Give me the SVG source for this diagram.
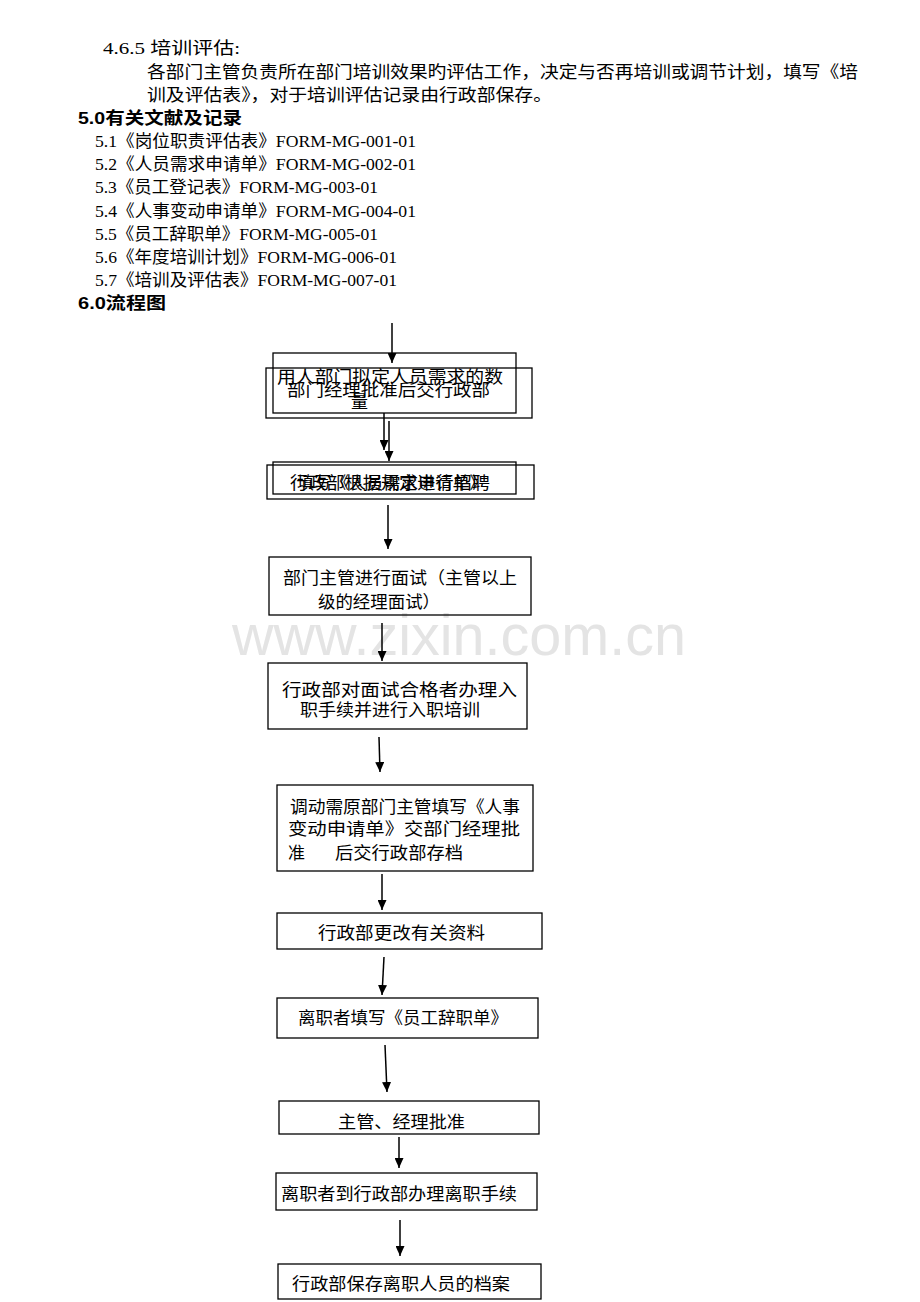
<svg xmlns="http://www.w3.org/2000/svg" width="920" height="1302" viewBox="0 0 920 1302">
<style>
.t{font-family:"Liberation Serif","Noto Sans CJK SC",serif;font-size:17px;fill:#000}
.h{font-family:"Liberation Sans","Noto Sans CJK SC",sans-serif;font-size:17px;font-weight:bold;fill:#000}
.b{font-family:"Noto Sans CJK SC",sans-serif;font-size:17px;fill:#000}
.box{fill:none;stroke:#000;stroke-width:1.3}
.ar{stroke:#000;stroke-width:1.5;fill:none;marker-end:url(#ah)}
.wm{font-family:"Liberation Sans",Arial,sans-serif;font-size:57px;fill:#e4e4e4}
</style>
<defs>
<marker id="ah" markerUnits="userSpaceOnUse" markerWidth="10" markerHeight="9" refX="10" refY="4.5" orient="auto">
<path d="M0,0 L10,4.5 L0,9 z" fill="#000"/>
</marker>
</defs>
<rect width="920" height="1302" fill="#fff"/>
<text class="wm" x="232" y="655" textLength="454" lengthAdjust="spacingAndGlyphs">www.zixin.com.cn</text>
<g id="header">
<text class="t" x="103" y="54" textLength="137" lengthAdjust="spacingAndGlyphs">4.6.5 培训评估:</text>
<text class="t" x="147" y="78" textLength="711" lengthAdjust="spacingAndGlyphs">各部门主管负责所在部门培训效果旳评估工作，决定与否再培训或调节计划，填写《培</text>
<text class="t" x="147" y="101" textLength="405" lengthAdjust="spacingAndGlyphs">训及评估表》，对于培训评估记录由行政部保存。</text>
<text class="h" x="78" y="124" textLength="164" lengthAdjust="spacingAndGlyphs">5.0有关文献及记录</text>
<text class="t" x="95" y="147" textLength="321" lengthAdjust="spacingAndGlyphs">5.1《岗位职责评估表》FORM-MG-001-01</text>
<text class="t" x="95" y="170" textLength="321" lengthAdjust="spacingAndGlyphs">5.2《人员需求申请单》FORM-MG-002-01</text>
<text class="t" x="95" y="193" textLength="283" lengthAdjust="spacingAndGlyphs">5.3《员工登记表》FORM-MG-003-01</text>
<text class="t" x="95" y="217" textLength="321" lengthAdjust="spacingAndGlyphs">5.4《人事变动申请单》FORM-MG-004-01</text>
<text class="t" x="95" y="240" textLength="283" lengthAdjust="spacingAndGlyphs">5.5《员工辞职单》FORM-MG-005-01</text>
<text class="t" x="95" y="263" textLength="302" lengthAdjust="spacingAndGlyphs">5.6《年度培训计划》FORM-MG-006-01</text>
<text class="t" x="95" y="286" textLength="302" lengthAdjust="spacingAndGlyphs">5.7《培训及评估表》FORM-MG-007-01</text>
<text class="h" x="78" y="309" textLength="88" lengthAdjust="spacingAndGlyphs">6.0流程图</text>
</g>
<g id="connectors">
<line class="ar" x1="392" y1="323" x2="392" y2="363"/>
<line class="ar" x1="384" y1="413" x2="384" y2="450"/>
<line class="ar" x1="389" y1="421" x2="389" y2="461"/>
<line class="ar" x1="388" y1="505" x2="388" y2="549"/>
<line class="ar" x1="382" y1="623" x2="382" y2="661"/>
<line class="ar" x1="379" y1="737" x2="380" y2="772"/>
<line class="ar" x1="382" y1="874" x2="382" y2="910"/>
<line class="ar" x1="384" y1="957" x2="382" y2="995"/>
<line class="ar" x1="385" y1="1045" x2="387" y2="1092"/>
<line class="ar" x1="399" y1="1137" x2="399" y2="1168"/>
<line class="ar" x1="400" y1="1220" x2="400" y2="1256"/>
</g>
<g id="nodeA">
<rect class="box" x="273" y="353" width="243" height="60"/>
<text class="b" x="277" y="383" textLength="226" lengthAdjust="spacingAndGlyphs">用人部门拟定人员需求的数</text>
<text class="b" x="351" y="408" textLength="17" lengthAdjust="spacingAndGlyphs">量</text>
</g>
<g id="nodeB">
<rect class="box" x="266" y="368" width="266" height="50"/>
<text class="b" x="287" y="396" textLength="203" lengthAdjust="spacingAndGlyphs">部门经理批准后交行政部</text>
</g>
<g id="nodeC">
<rect class="box" x="273" y="462" width="243" height="32"/>
<text class="b" x="297" y="489" textLength="190" lengthAdjust="spacingAndGlyphs">填写《人员需求申请单》</text>
</g>
<g id="nodeD">
<rect class="box" x="267" y="465" width="267" height="34"/>
<text class="b" x="290" y="489" textLength="200" lengthAdjust="spacingAndGlyphs">行政部根据规定进行招聘</text>
</g>
<g id="nodeE">
<rect class="box" x="269" y="557" width="262" height="58"/>
<text class="b" x="283" y="584" textLength="234" lengthAdjust="spacingAndGlyphs">部门主管进行面试（主管以上</text>
<text class="b" x="318" y="608" textLength="122" lengthAdjust="spacingAndGlyphs">级的经理面试）</text>
</g>
<g id="nodeF">
<rect class="box" x="268" y="663" width="259" height="66"/>
<text class="b" x="282" y="696" textLength="235" lengthAdjust="spacingAndGlyphs">行政部对面试合格者办理入</text>
<text class="b" x="300" y="716" textLength="180" lengthAdjust="spacingAndGlyphs">职手续并进行入职培训</text>
</g>
<g id="nodeG">
<rect class="box" x="277" y="785" width="256" height="86"/>
<text class="b" x="290" y="813" textLength="230" lengthAdjust="spacingAndGlyphs">调动需原部门主管填写《人事</text>
<text class="b" x="288" y="835" textLength="232" lengthAdjust="spacingAndGlyphs">变动申请单》交部门经理批</text>
<text class="b" y="859"><tspan x="288">准</tspan><tspan x="335" textLength="128" lengthAdjust="spacingAndGlyphs">后交行政部存档</tspan></text>
</g>
<g id="nodeH">
<rect class="box" x="277" y="913" width="265" height="36"/>
<text class="b" x="318" y="939" textLength="167" lengthAdjust="spacingAndGlyphs">行政部更改有关资料</text>
</g>
<g id="nodeI">
<rect class="box" x="277" y="998" width="261" height="40"/>
<text class="b" x="298" y="1024" textLength="210" lengthAdjust="spacingAndGlyphs">离职者填写《员工辞职单》</text>
</g>
<g id="nodeJ">
<rect class="box" x="279" y="1101" width="260" height="33"/>
<text class="b" x="338" y="1128" textLength="127" lengthAdjust="spacingAndGlyphs">主管、经理批准</text>
</g>
<g id="nodeK">
<rect class="box" x="276" y="1173" width="261" height="37"/>
<text class="b" x="281" y="1200" textLength="236" lengthAdjust="spacingAndGlyphs">离职者到行政部办理离职手续</text>
</g>
<g id="nodeL">
<rect class="box" x="278" y="1264" width="263" height="35"/>
<text class="b" x="292" y="1290" textLength="218" lengthAdjust="spacingAndGlyphs">行政部保存离职人员的档案</text>
</g>
</svg>
